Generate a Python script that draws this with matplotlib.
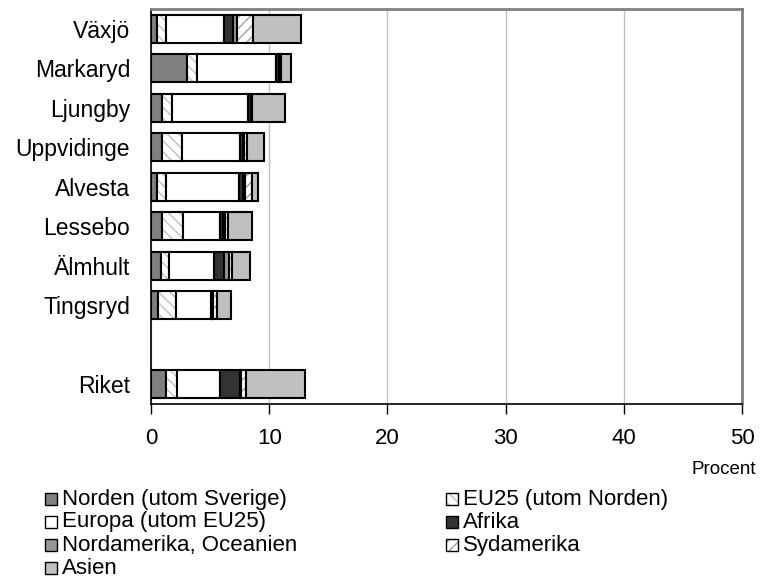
import numpy as np
import matplotlib
matplotlib.use("Agg")
import matplotlib.pyplot as plt
from matplotlib.patches import Rectangle

plt.rcParams['font.family'] = ['Liberation Sans', 'DejaVu Sans']
plt.rcParams['hatch.linewidth'] = 1.0

# Data (percent), top to bottom
kommuner = ["Växjö", "Markaryd", "Ljungby", "Uppvidinge", "Alvesta",
            "Lessebo", "Älmhult", "Tingsryd", "Riket"]
norden = [0.5, 3.07, 0.9, 0.9, 0.53, 0.9, 0.82, 0.6, 1.24]
eu25 = [0.74, 0.85, 0.9, 1.7, 0.74, 1.83, 0.73, 1.55, 0.99]
europa = [4.9, 6.65, 6.43, 4.93, 6.18, 3.11, 3.78, 2.96, 3.61]
afrika = [0.8, 0.3, 0.23, 0.22, 0.35, 0.28, 0.87, 0.05, 1.69]
nordamerika = [0.3, 0.05, 0.05, 0.12, 0.15, 0.14, 0.42, 0.05, 0.1]
sydamerika = [1.35, 0.05, 0.05, 0.23, 0.57, 0.28, 0.23, 0.4, 0.42]
asien = [4.06, 0.9, 2.74, 1.5, 0.56, 2.03, 1.53, 1.19, 4.96]

serier = ["Norden (utom Sverige)", "EU25 (utom Norden)", "Europa (utom EU25)",
          "Afrika", "Nordamerika, Oceanien", "Sydamerika", "Asien"]
values = [norden, eu25, europa, afrika, nordamerika, sydamerika, asien]

# styles: facecolor, hatch color, hatch
styles = [("#808080", None, None),
          ("white", "#c0c0c0", "\\\\\\"),
          ("white", None, None),
          ("#333333", None, None),
          ("#969696", None, None),
          ("white", "#a0a0a0", "///"),
          ("#c0c0c0", None, None)]

# positions: leave one empty slot before Riket
ypos = np.array([0, 1, 2, 3, 4, 5, 6, 7, 9])

W, H = 761, 582
fig = plt.figure(figsize=(W / 100, H / 100), dpi=100)
ax = fig.add_axes([151 / W, 178 / H, 591 / W, 395 / H])

left = np.zeros(len(kommuner))
for name, vals, (fc, hc, hatch) in zip(serier, values, styles):
    vals = np.array(vals)
    if hatch:
        ax.barh(ypos, vals, left=left, height=0.7, color=fc,
                edgecolor=hc, hatch=hatch, linewidth=0)
    else:
        ax.barh(ypos, vals, left=left, height=0.7, color=fc, linewidth=0)
    ax.barh(ypos, vals, left=left, height=0.7, fill=False,
            edgecolor="black", linewidth=1.5)
    left += vals

ax.set_xlim(0, 50)
ax.set_ylim(9.5, -0.5)
ax.set_xticks([0, 10, 20, 30, 40, 50])
ax.set_yticks(ypos)
ax.set_yticklabels(kommuner)
ax.tick_params(axis="y", length=0, pad=15, labelsize=16.5)
ax.tick_params(axis="x", length=7, width=1, pad=10, labelsize=16,
               direction="out")
ax.xaxis.grid(True, color="#c0c0c0", linewidth=1)
ax.set_axisbelow(True)
ax.spines["left"].set_color("black")
ax.spines["bottom"].set_color("black")
ax.spines["left"].set_linewidth(1.2)
ax.spines["bottom"].set_linewidth(1.2)
ax.spines["top"].set_color("#808080")
ax.spines["right"].set_color("#808080")
ax.spines["top"].set_linewidth(2)
ax.spines["right"].set_linewidth(2)

fig.text(756 / W, 1 - 469 / H, "Procent", ha="right", va="center",
         fontsize=13.5)

# legend drawn by hand: two columns, rows Norden/EU25, Europa/Afrika, ...
col_x = [45, 446]
row_y = [499, 522, 545, 568]
placement = [(0, 0), (1, 0), (0, 1), (1, 1), (0, 2), (1, 2), (0, 3)]
box = 12
for (col, row), name, (fc, hc, hatch) in zip(placement, serier, styles):
    x, y = col_x[col], row_y[row]
    if hatch:
        fig.add_artist(Rectangle((x / W, 1 - (y + box / 2) / H), box / W, box / H,
                                 transform=fig.transFigure, facecolor=fc,
                                 edgecolor=hc, hatch=hatch, linewidth=0))
    else:
        fig.add_artist(Rectangle((x / W, 1 - (y + box / 2) / H), box / W, box / H,
                                 transform=fig.transFigure, facecolor=fc,
                                 linewidth=0))
    fig.add_artist(Rectangle((x / W, 1 - (y + box / 2) / H), box / W, box / H,
                             transform=fig.transFigure, fill=False,
                             edgecolor="black", linewidth=1.0))
    fig.text((x + box + 5) / W, 1 - y / H, name, ha="left", va="center",
             fontsize=16)

fig.savefig("out.png", dpi=100)
